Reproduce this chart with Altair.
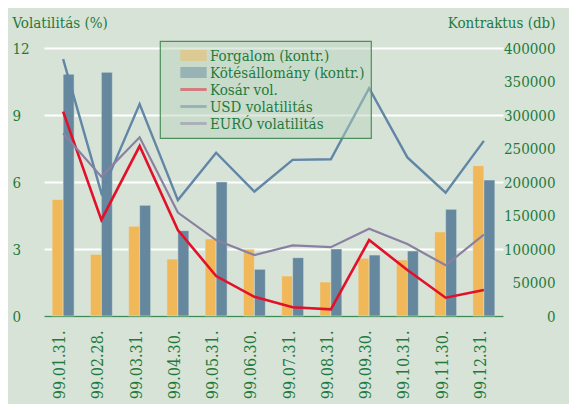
import altair as alt
import pandas as pd

dates = ["99.01.31.", "99.02.28.", "99.03.31.", "99.04.30.", "99.05.31.", "99.06.30.",
         "99.07.31.", "99.08.31.", "99.09.30.", "99.10.31.", "99.11.30.", "99.12.31."]
forgalom = [174000, 92000, 134000, 85000, 115000, 99500, 59700, 50700, 86100, 83600, 125400, 224400]
kotes = [361000, 363700, 165200, 127400, 200000, 69700, 87100, 100000, 91000, 97000, 159200, 203000]
kosar = [9.15, 4.30, 7.61, 3.85, 1.79, 0.86, 0.39, 0.30, 3.40, 2.06, 0.82, 1.16]
usd = [11.5, 5.5, 9.49, 5.19, 7.31, 5.57, 6.99, 7.02, 10.2, 7.1, 5.52, 7.84]
euro = [8.18, 6.24, 8.0, 4.63, 3.40, 2.73, 3.16, 3.08, 3.91, 3.22, 2.27, 3.64]

series = ["Forgalom (kontr.)", "Kötésállomány (kontr.)", "Kosár vol.", "USD volatilitás", "EURÓ volatilitás"]
colors = ["#f0b858", "#66889f", "#e3102a", "#6186a6", "#8a80a2"]
shapes = ["M-1.55,-0.65H1.55V0.65H-1.55Z", "M-1.55,-0.65H1.55V0.65H-1.55Z",
          "M-1.55,-0.17H1.55V0.17H-1.55Z", "M-1.55,-0.17H1.55V0.17H-1.55Z",
          "M-1.55,-0.17H1.55V0.17H-1.55Z"]

green = "#1e7a3c"
font = "DejaVu Serif Condensed"
fs = 15

bars = pd.DataFrame({
    "date": dates * 2,
    "series": [series[0]] * 12 + [series[1]] * 12,
    "value": forgalom + kotes,
    "order": [0] * 12 + [1] * 12,
})
lines = pd.DataFrame({
    "date": dates * 3,
    "series": [series[2]] * 12 + [series[3]] * 12 + [series[4]] * 12,
    "value": kosar + usd + euro,
})
legend_df = pd.DataFrame({"date": [dates[0]] * 5, "series": series, "value": [-50] * 5})

x_enc = alt.X("date:N", sort=dates, title=None,
              scale=alt.Scale(paddingInner=0.425, paddingOuter=0.2125),
              axis=alt.Axis(labelAngle=270, labelFontSize=16, labelColor=green, labelFont=font,
                            labelPadding=14, labelOffset=-3, ticks=False, domainColor="#3f8a55",
                            domainWidth=1.5, grid=False))

left_axis = alt.Axis(values=[0, 3, 6, 9, 12], orient="left", grid=True, gridColor="white",
                     gridWidth=2, domain=False, ticks=False, labelAlign="left", labelPadding=32,
                     labelFontSize=fs, labelColor=green, labelFont=font,
                     title="Volatilitás (%)", titleAngle=0, titleX=-32, titleY=-21,
                     titleAlign="left", titleBaseline="alphabetic", titleFontSize=fs,
                     titleFontWeight="normal", titleColor=green, titleFont=font)
right_axis = alt.Axis(values=list(range(0, 400001, 50000)), orient="right", grid=False,
                      domain=False, ticks=False, labelAlign="right", labelPadding=52,
                      labelFontSize=fs, labelColor=green, labelFont=font, format="d",
                      title="Kontraktus (db)", titleAngle=0, titleX=52, titleY=-21,
                      titleAlign="right", titleBaseline="alphabetic", titleFontSize=fs,
                      titleFontWeight="normal", titleColor=green, titleFont=font)

bar_layer = alt.Chart(bars).mark_bar(stroke="#dfe8df", strokeWidth=0.5).encode(
    x=x_enc,
    xOffset=alt.XOffset("order:O"),
    y=alt.Y("value:Q", scale=alt.Scale(domain=[0, 400000], nice=False), axis=right_axis),
    fill=alt.Fill("series:N", scale=alt.Scale(domain=series[:2], range=colors[:2]), legend=None),
)

line_layer = alt.Chart(lines).mark_line().encode(
    x=x_enc,
    y=alt.Y("value:Q", scale=alt.Scale(domain=[0, 12], nice=False), axis=left_axis),
    stroke=alt.Stroke("series:N", scale=alt.Scale(domain=series[2:], range=colors[2:]), legend=None),
    strokeWidth=alt.StrokeWidth("series:N", scale=alt.Scale(domain=series[2:], range=[2.6, 2.2, 2.2]), legend=None),
)

legend_layer = alt.Chart(legend_df).mark_point(filled=True, clip=True).encode(
    x=x_enc,
    y=alt.Y("value:Q", scale=alt.Scale(domain=[0, 12], nice=False), axis=None),
    color=alt.Color("series:N", scale=alt.Scale(domain=series, range=colors),
                    legend=alt.Legend(title=None, orient="none", legendX=116, legendY=-7,
                                      fillColor="rgba(185,210,188,0.45)", strokeColor="#4b8f5e",
                                      padding=6, symbolOffset=19,
                                      symbolSize=289, symbolStrokeWidth=0, symbolOpacity=1,
                                      labelFontSize=fs, labelColor=green, labelFont=font,
                                      labelOffset=8, rowPadding=0, labelLimit=400,
                                      labelExpr="datum.label + '\u00a0\u00a0\u00a0\u00a0'")),
    shape=alt.Shape("series:N", scale=alt.Scale(domain=series, range=shapes)),
)

chart = alt.layer(bar_layer, line_layer, legend_layer).resolve_scale(
    y="independent"
).properties(
    width=459, height=268,
    autosize=alt.AutoSizeParams(type="none"),
    padding={"left": 36, "top": 40, "right": 66, "bottom": 88},
).configure(background="#d7e3d7").configure_view(stroke=None).configure_legend(strokeWidth=1.2)

chart.save("out.html", embed_options={"renderer": "svg", "actions": False})
